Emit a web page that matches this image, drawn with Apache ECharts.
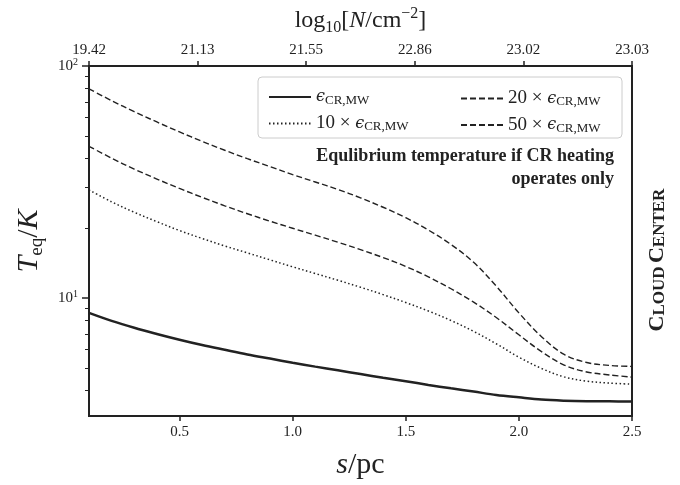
<!DOCTYPE html>
<html><head><meta charset="utf-8">
<script src="https://cdn.jsdelivr.net/npm/echarts@6/dist/echarts.min.js"></script>
<style>html,body{margin:0;padding:0;background:#fff}#c{width:680px;height:485px}</style>
</head><body><div id="c"></div>
<script>
// ---- data ----
const sValues = [0.1,0.2,0.3,0.4,0.5,0.6,0.7,0.8,0.9,1.0,1.1,1.2,1.3,1.4,1.5,1.6,1.7,1.8,1.9,2.0,2.1,2.2,2.3,2.4,2.5];
const tMW = [8.63,7.97,7.44,7.00,6.61,6.27,5.98,5.71,5.48,5.26,5.06,4.88,4.70,4.53,4.38,4.22,4.08,3.95,3.82,3.73,3.65,3.61,3.59,3.585,3.58];
const t10 = [29.23,25.97,23.42,21.33,19.53,18.05,16.76,15.65,14.60,13.63,12.75,11.93,11.13,10.34,9.56,8.79,8.00,7.18,6.35,5.56,4.97,4.57,4.38,4.30,4.25];
const t20 = [45.07,40.05,35.94,32.57,29.66,27.15,24.97,23.08,21.43,19.98,18.65,17.40,16.16,14.94,13.68,12.33,10.96,9.60,8.24,6.94,5.87,5.14,4.80,4.66,4.56];
const t50 = [79.74,70.87,63.58,57.37,51.97,47.33,43.33,39.85,36.84,34.05,31.62,29.37,27.02,24.61,22.19,19.63,17.01,14.25,11.25,8.63,6.81,5.71,5.27,5.12,5.07];
const bottomTicks = [0.5,1.0,1.5,2.0,2.5];
const topTickPositions = [0.1,0.58,1.06,1.54,2.02,2.5];
const topTickLabels = ['19.42','21.13','21.55','22.86','23.02','23.03'];
const yMajorTicks = [10,100];
const yMinorTicks = [4,5,6,7,8,9,20,30,40,50,60,70,80,90];

const SERIF = 'Liberation Serif, DejaVu Serif, serif';
const INK = '#222';
const pairs = arr => sValues.map((s,i)=>[s,arr[i]]);

const legendRich = {
  n:{fontFamily:SERIF,fontSize:19,color:INK,lineHeight:20,verticalAlign:'middle'},
  e:{fontFamily:'DejaVu Serif, serif',fontStyle:'italic',fontSize:16,color:INK,lineHeight:20,verticalAlign:'middle'},
  s:{fontFamily:SERIF,fontSize:13,color:INK,lineHeight:12,verticalAlign:'bottom'}
};
const legendText = {
  'eps':'{e|ϵ}{s|CR,MW}',
  '10x':'{n|10 × }{e|ϵ}{s|CR,MW}',
  '20x':'{n|20 × }{e|ϵ}{s|CR,MW}',
  '50x':'{n|50 × }{e|ϵ}{s|CR,MW}'
};

function lineSeries(name, data, width, type){
  return {
    name, type:'line', data:pairs(data), xAxisIndex:0, yAxisIndex:0,
    showSymbol:false, symbol:'none', smooth:0.35,
    lineStyle:{color:INK, width, type}, itemStyle:{color:INK},
    emphasis:{disabled:true}, animation:false
  };
}
const hiddenSymbol = {color:'rgba(0,0,0,0)',borderColor:'rgba(0,0,0,0)',borderWidth:0,opacity:0};

const chart = echarts.init(document.getElementById('c'), null, {renderer:'canvas'});
chart.setOption({
  animation:false,
  grid:{left:89,right:48,top:66,bottom:66,show:true,borderColor:INK,borderWidth:2,backgroundColor:'transparent'},
  xAxis:[{
    type:'value', position:'bottom', min:0.1, max:2.5,
    axisLine:{show:true,lineStyle:{color:INK,width:2}},
    axisTick:{show:true,customValues:bottomTicks,length:5,inside:false,lineStyle:{color:INK,width:1.5}},
    axisLabel:{customValues:bottomTicks,formatter:v=>v.toFixed(1),fontFamily:SERIF,fontSize:15,color:INK,margin:9},
    splitLine:{show:false},
    name:'{it|s}{n|/pc}', nameLocation:'middle', nameGap:34,
    nameTextStyle:{rich:{
      it:{fontFamily:SERIF,fontStyle:'italic',fontSize:30,color:INK},
      n:{fontFamily:SERIF,fontSize:30,color:INK}
    }}
  },{
    type:'value', position:'top', min:0.1, max:2.5,
    axisLine:{show:true,lineStyle:{color:INK,width:2}},
    axisTick:{show:true,customValues:topTickPositions,length:5,inside:false,lineStyle:{color:INK,width:1.5}},
    axisLabel:{customValues:topTickPositions,
      formatter:v=>{const i=topTickPositions.findIndex(p=>Math.abs(p-v)<1e-6);return i>=0?topTickLabels[i]:'';},
      fontFamily:SERIF,fontSize:15,color:INK,margin:8},
    splitLine:{show:false},
    name:'{n|log}{sb|10}{n|[}{it|N}{n|/cm}{sp|−2}{n|]}', nameLocation:'middle', nameGap:30,
    nameTextStyle:{rich:{
      n:{fontFamily:SERIF,fontSize:24,color:INK,lineHeight:30,verticalAlign:'middle'},
      it:{fontFamily:SERIF,fontStyle:'italic',fontSize:24,color:INK,lineHeight:30,verticalAlign:'middle'},
      sb:{fontFamily:SERIF,fontSize:16,color:INK,lineHeight:16,verticalAlign:'bottom'},
      sp:{fontFamily:SERIF,fontSize:16,color:INK,lineHeight:16,verticalAlign:'top'}
    }}
  }],
  yAxis:[{
    type:'log', logBase:10, min:3.1, max:100, position:'left',
    axisLine:{show:true,lineStyle:{color:INK,width:2}},
    axisTick:{show:true,customValues:yMajorTicks,length:7,inside:false,lineStyle:{color:INK,width:1.5}},
    axisLabel:{customValues:yMajorTicks,
      formatter:v=>'{b|10}{sp|'+Math.round(Math.log10(v))+'}',
      margin:11,
      rich:{
        b:{fontFamily:SERIF,fontSize:15,color:INK,lineHeight:18,verticalAlign:'middle'},
        sp:{fontFamily:SERIF,fontSize:10,color:INK,lineHeight:10,verticalAlign:'top'}
      }},
    splitLine:{show:false},
    name:'{it|T}{sb|eq}{n|/}{it|K}', nameLocation:'middle', nameGap:42,
    nameTextStyle:{rich:{
      it:{fontFamily:SERIF,fontStyle:'italic',fontSize:30,color:INK,lineHeight:36,verticalAlign:'middle'},
      n:{fontFamily:SERIF,fontSize:30,color:INK,lineHeight:36,verticalAlign:'middle'},
      sb:{fontFamily:SERIF,fontSize:19,color:INK,lineHeight:18,verticalAlign:'bottom'}
    }}
  },{
    type:'log', logBase:10, min:3.1, max:100, position:'left',
    axisLine:{show:false},
    axisTick:{show:true,customValues:yMinorTicks,length:4,inside:false,lineStyle:{color:INK,width:1}},
    axisLabel:{show:false},
    splitLine:{show:false}
  }],
  legend:[{
    data:['eps','10x'], orient:'vertical', left:263, top:84,
    itemWidth:42, itemHeight:12, itemGap:7, itemStyle:hiddenSymbol,
    formatter:n=>legendText[n], textStyle:{rich:legendRich,padding:[0,0,0,0]},
    selectedMode:false
  },{
    data:['20x','50x'], orient:'vertical', left:455, top:84,
    itemWidth:42, itemHeight:12, itemGap:7, itemStyle:hiddenSymbol,
    formatter:n=>legendText[n], textStyle:{rich:legendRich,padding:[0,0,0,0]},
    selectedMode:false
  }],
  graphic:[
    {type:'rect', z:1, shape:{x:258,y:77,width:364,height:61,r:4},
     style:{fill:'rgba(255,255,255,0.85)',stroke:'#cccccc',lineWidth:1}},
    {type:'text', z:5, x:614, y:145,
     style:{text:'Equlibrium temperature if CR heating\noperates only',
       font:'bold 18px '+SERIF, fill:INK, align:'right', verticalAlign:'top', lineHeight:23}},
    {type:'text', z:5, x:656, y:260, rotation:Math.PI/2,
     style:{text:'{c|C}{s|LOUD} {c|C}{s|ENTER}', align:'center', verticalAlign:'middle',
       rich:{
         c:{font:'bold 22px '+SERIF, fill:INK, lineHeight:24, verticalAlign:'bottom'},
         s:{font:'bold 17px '+SERIF, fill:INK, lineHeight:19, verticalAlign:'bottom'}
       }}}
  ],
  series:[
    lineSeries('eps', tMW, 2.5, 'solid'),
    lineSeries('10x', t10, 1.5, [1.5,2.5]),
    lineSeries('20x', t20, 1.4, [6,3]),
    lineSeries('50x', t50, 1.4, [6,3])
  ]
});
</script></body></html>
